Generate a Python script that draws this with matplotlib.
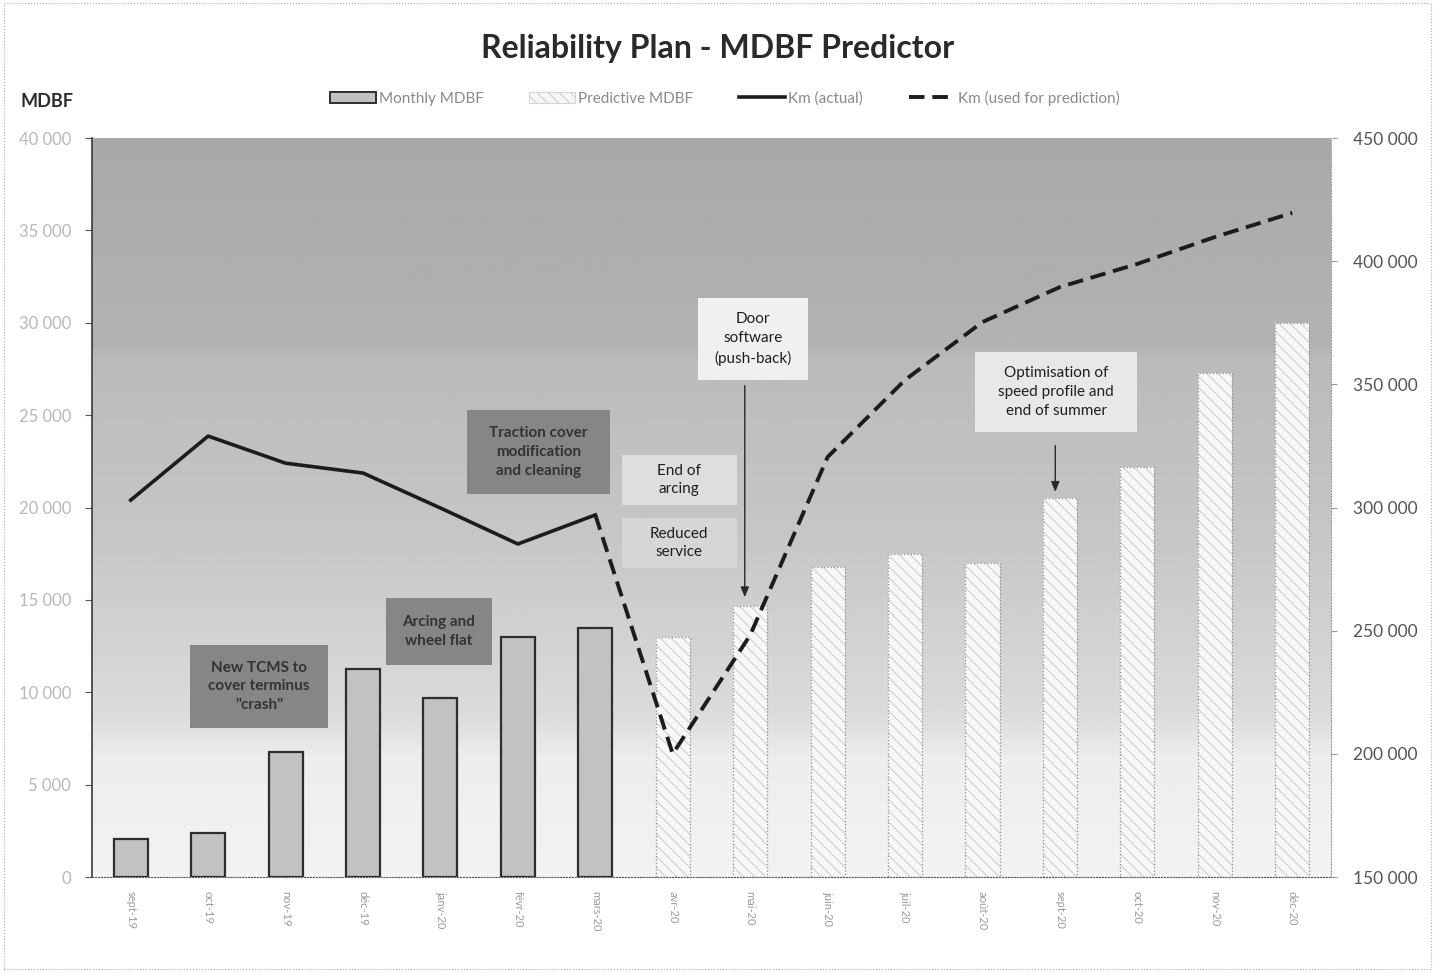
import numpy as np
import matplotlib
matplotlib.use("Agg")
import matplotlib.pyplot as plt
from matplotlib.patches import Patch, Rectangle
from matplotlib.lines import Line2D
from matplotlib.ticker import FuncFormatter, MultipleLocator

# ---- data ----
months = ["sept-19", "oct-19", "nov-19", "déc-19", "janv-20", "févr-20", "mars-20",
          "avr-20", "mai-20", "juin-20", "juil-20", "août-20", "sept-20", "oct-20",
          "nov-20", "déc-20"]
monthly_mdbf = [2050, 2380, 6770, 11260, 9690, 12990, 13480]
predictive_mdbf = [12990, 14670, 16780, 17480, 17000, 20510, 22190, 27280, 30000]
km_actual = [303000, 329000, 318000, 314000, 299800, 285200, 297000]
km_prediction = [297000, 200000, 248200, 320500, 351800, 375300, 389500, 398900,
                 409800, 419600]

plt.rcParams["font.family"] = ["Lato", "DejaVu Sans"]
plt.rcParams["hatch.linewidth"] = 0.9

fig = plt.figure(figsize=(14.35, 9.72), dpi=100)
fig.patch.set_facecolor("white")
ax = fig.add_axes([0.0641, 0.0977, 0.8634, 0.7603])
ax2 = ax.twinx()

n = len(months)
x = np.arange(n)
n_act = len(monthly_mdbf)

ax.set_xlim(-0.5, n - 0.5)
ax.set_ylim(0, 40000)
ax2.set_ylim(150000, 450000)

# plot-area background: grey gradient, darker at the top
stops_pos = [0.0, 0.28, 0.30, 0.55, 0.78, 0.84, 1.0]
stops_val = [0.66, 0.70, 0.73, 0.78, 0.86, 0.93, 0.95]
grad = np.interp(np.linspace(0, 1, 400), stops_pos, stops_val)[:, None]
ax.imshow(np.repeat(grad, 2, axis=1), cmap="gray", vmin=0, vmax=1,
          extent=(-0.5, n - 0.5, 0, 40000), aspect="auto", zorder=0,
          interpolation="bilinear")

bw = 0.44
hatch_grey = "#d4d4d4"
ax.bar(x[:n_act], monthly_mdbf, width=bw, color="#c2c2c2", edgecolor="#2e2e2e",
       linewidth=1.6, zorder=2)
# predictive bars: light hatched fill, then a dotted outline on top
ax.bar(x[n_act:], predictive_mdbf, width=bw, color="#f7f7f7", edgecolor=hatch_grey,
       linewidth=0, hatch="\\\\\\", zorder=2)
ax.bar(x[n_act:], predictive_mdbf, width=bw, fill=False, edgecolor="#8f8f8f",
       linewidth=0.9, linestyle=":", zorder=2.1)

dash = (0, (4.0, 2.0))
ax2.plot(x[:n_act], km_actual, color="#1c1c1c", linewidth=2.6, zorder=4,
         solid_joinstyle="round")
ax2.plot(x[n_act - 1:], km_prediction, color="#1c1c1c", linewidth=2.8,
         linestyle=dash, zorder=4)

# axes styling
thousands = FuncFormatter(lambda v, _: f"{int(v):,}".replace(",", " "))
ax.yaxis.set_major_locator(MultipleLocator(5000))
ax.yaxis.set_major_formatter(thousands)
ax2.yaxis.set_major_locator(MultipleLocator(50000))
ax2.yaxis.set_major_formatter(thousands)
ax.tick_params(axis="y", labelsize=12, colors="#555555", labelcolor="#b8b8b8",
               length=5, pad=10)
ax2.tick_params(axis="y", labelsize=12.5, colors="#999999", labelcolor="#555555",
                length=4, pad=12)
ax.set_xticks(x)
ax.set_xticklabels(months, rotation=-90, fontsize=8, color="#9a9a9a")
ax.tick_params(axis="x", length=0, pad=10)
for a in (ax, ax2):
    a.spines["top"].set_visible(False)
ax.spines["left"].set_color("#3a3a3a")
ax.spines["left"].set_linewidth(1.2)
ax.spines["bottom"].set_color("#555555")
ax.spines["bottom"].set_linestyle(":")
ax.spines["right"].set_visible(False)
ax2.spines["right"].set_color("#9a9a9a")
ax2.spines["right"].set_linestyle(":")
ax2.spines["left"].set_visible(False)
ax2.spines["bottom"].set_visible(False)

# annotation boxes: (x0, x1, y0, y1) in category / MDBF units
def note(x0, x1, y0, y1, text, fc, tc, weight):
    ax.add_patch(Rectangle((x0, y0), x1 - x0, y1 - y0, fc=fc, ec="none", zorder=5))
    ax.text((x0 + x1) / 2, (y0 + y1) / 2, text, ha="center", va="center",
            fontsize=11, linespacing=1.45, color=tc, fontweight=weight, zorder=6)

note(0.76, 2.55, 8070, 12560, "New TCMS to\ncover terminus\n\"crash\"",
     "#868686", "#333333", "bold")
note(3.30, 4.66, 11480, 15100, "Arcing and\nwheel flat", "#868686", "#333333", "bold")
note(4.34, 6.19, 20730, 25280, "Traction cover\nmodification\nand cleaning",
     "#868686", "#333333", "bold")
note(6.34, 7.83, 20140, 22840, "End of\narcing", "#dedede", "#1e1e1e", "normal")
note(6.34, 7.83, 16730, 19430, "Reduced\nservice", "#d6d6d6", "#1e1e1e", "normal")
note(7.33, 8.75, 26900, 31340, "Door\nsoftware\n(push-back)", "#f0f0f0", "#1e1e1e",
     "normal")
note(10.90, 13.00, 24090, 28420, "Optimisation of\nspeed profile and\nend of summer",
     "#e8e8e8", "#1e1e1e", "normal")

arrow_kw = dict(arrowstyle="-|>,head_length=0.6,head_width=0.25", color="#2a2a2a",
                lw=1.0, shrinkA=0, shrinkB=0)
ax.annotate("", xy=(7.93, 15150), xytext=(7.93, 26600), arrowprops=arrow_kw, zorder=6)
ax.annotate("", xy=(11.94, 20850), xytext=(11.94, 23350), arrowprops=arrow_kw, zorder=6)

# titles
fig.text(0.5, 0.950, "Reliability Plan - MDBF Predictor", ha="center", va="center",
         fontsize=23, fontweight="bold", color="#2a2a2a")
fig.text(0.014, 0.896, "MDBF", ha="left", va="center", fontsize=13,
         fontweight="bold", color="#2a2a2a")

# legend
handles = [
    Patch(facecolor="#c2c2c2", edgecolor="#2e2e2e", linewidth=1.4, label="Monthly MDBF"),
    Patch(facecolor="#f7f7f7", edgecolor=hatch_grey, linewidth=0.8, hatch="\\\\\\",
          label="Predictive MDBF"),
    Line2D([], [], color="#1c1c1c", linewidth=2.6, label="Km (actual)"),
    Line2D([], [], color="#1c1c1c", linewidth=2.8, linestyle=dash,
           label="Km (used for prediction)"),
]
fig.legend(handles=handles, loc="center", bbox_to_anchor=(0.505, 0.899), ncol=4,
           frameon=False, fontsize=11, labelcolor="#8a8a8a", handlelength=3.0,
           handleheight=0.8, handletextpad=0.2, columnspacing=3.0)

# dotted frame around the figure
fig.patches.append(Rectangle((0.003, 0.003), 0.994, 0.994, transform=fig.transFigure,
                             fill=False, ec="#aaaaaa", lw=0.8, ls=":"))

fig.savefig("out.png", dpi=100)
